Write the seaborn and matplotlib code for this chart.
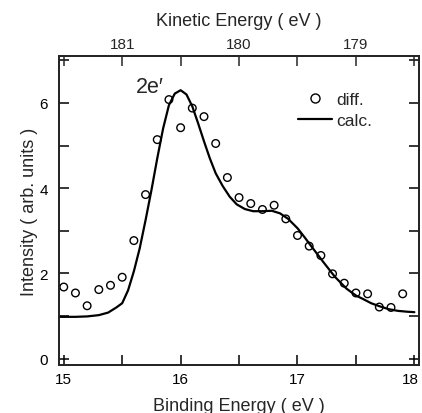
import matplotlib
matplotlib.use("Agg")
import matplotlib.pyplot as plt
import matplotlib.transforms as mtransforms
import seaborn as sns
import pandas as pd
from matplotlib.lines import Line2D

# ---- data ----
diff_be = [15.0, 15.1, 15.2, 15.3, 15.4, 15.5, 15.6, 15.7, 15.8, 15.9,
           16.0, 16.1, 16.2, 16.3, 16.4, 16.5, 16.6, 16.7, 16.8, 16.9,
           17.0, 17.1, 17.2, 17.3, 17.4, 17.5, 17.6, 17.7, 17.8, 17.9]
diff_int = [1.68, 1.54, 1.24, 1.62, 1.72, 1.91, 2.77, 3.85, 5.14, 6.08,
            5.42, 5.88, 5.68, 5.05, 4.25, 3.78, 3.64, 3.50, 3.60, 3.28,
            2.89, 2.64, 2.42, 1.99, 1.77, 1.54, 1.52, 1.21, 1.20, 1.52]

calc_be = [14.96, 15.10, 15.20, 15.30, 15.38, 15.45, 15.50, 15.55, 15.60, 15.65,
           15.70, 15.75, 15.80, 15.85, 15.90, 15.95, 16.00, 16.05, 16.10, 16.15,
           16.20, 16.25, 16.30, 16.36, 16.42, 16.48, 16.55, 16.62, 16.70, 16.78,
           16.85, 16.92, 17.00, 17.06, 17.12, 17.22, 17.32, 17.42, 17.50, 17.56,
           17.63, 17.70, 17.78, 17.86, 17.94, 18.00]
calc_int = [0.98, 0.98, 0.99, 1.02, 1.08, 1.20, 1.30, 1.60, 2.05, 2.59,
            3.25, 3.95, 4.70, 5.40, 5.95, 6.22, 6.30, 6.20, 5.92, 5.52,
            5.10, 4.70, 4.35, 4.05, 3.80, 3.62, 3.51, 3.46, 3.46, 3.47,
            3.41, 3.28, 3.06, 2.85, 2.63, 2.27, 1.92, 1.64, 1.48, 1.40,
            1.30, 1.23, 1.16, 1.12, 1.10, 1.09]

bottom_ticks = [15, 15.5, 16, 16.5, 17, 17.5, 18]
bottom_labels = ["15", "", "16", "", "17", "", "18"]
y_ticks = [0, 1, 2, 3, 4, 5, 6, 7]
y_labels = ["0", "", "2", "", "4", "", "6", ""]
ke_ticks = [181.5, 181, 180.5, 180, 179.5, 179, 178.5]
ke_labels = ["", "181", "", "180", "", "179", ""]
ke_offset = 196.5  # KE = 196.5 - BE

df_diff = pd.DataFrame({"be": diff_be, "I": diff_int})
df_calc = pd.DataFrame({"be": calc_be, "I": calc_int})

sns.set_style("ticks")
plt.rcParams["font.family"] = ["Liberation Sans", "DejaVu Sans"]

fig = plt.figure(figsize=(4.22, 4.14), dpi=100)
ax = fig.add_axes([0.140, 0.116, 0.853, 0.746])

sns.lineplot(data=df_calc, x="be", y="I", ax=ax, color="black", lw=1.6,
             sort=False, legend=False)
sns.scatterplot(data=df_diff, x="be", y="I", ax=ax, marker="o", s=30,
                facecolor="none", edgecolor="black", linewidth=1.0, legend=False)

ax.set_xlim(14.96, 18.04)
ax.set_ylim(-0.15, 7.1)
ax.set_xticks(bottom_ticks)
ax.set_xticklabels(bottom_labels)
ax.set_yticks(y_ticks)
ax.set_yticklabels(y_labels)
ax.tick_params(direction="in", length=7, width=1.1, labelsize=11,
               right=True, top=False, colors="black", pad=5)
ax.tick_params(axis="y", pad=8)
ax.set_xlabel("Binding Energy ( eV )", fontsize=13, labelpad=8)
ax.set_ylabel("Intensity ( arb. units )", fontsize=13, labelpad=1)
for s in ax.spines.values():
    s.set_linewidth(1.2)
    s.set_color("black")

# nudge the last bottom label so it stays inside the figure
last = ax.get_xticklabels()[-1]
last.set_transform(last.get_transform() +
                   mtransforms.ScaledTranslation(-4 / 100, 0, fig.dpi_scale_trans))

ax2 = ax.twiny()
ax2.set_xlim(ax.get_xlim())
ax2.set_xticks([ke_offset - k for k in ke_ticks])
ax2.set_xticklabels(ke_labels)
ax2.tick_params(direction="in", length=7, width=1.1, labelsize=11, pad=4)
ax2.set_xlabel("Kinetic Energy ( eV )", fontsize=13, labelpad=8)
for s in ax2.spines.values():
    s.set_linewidth(1.2)

ax.text(15.74, 6.38, "2e\u2032", fontsize=15.5, ha="center", va="center")

handles = [Line2D([], [], marker="o", ls="none", mfc="none", mec="black",
                  ms=6.5, mew=1.0),
           Line2D([], [], color="black", lw=1.6)]
ax.legend(handles, ["diff.", "calc."], loc="upper right",
          bbox_to_anchor=(0.905, 0.925), frameon=False, fontsize=12.5,
          handlelength=2.0, handletextpad=0.25, labelspacing=0.35,
          borderpad=0.2)

fig.savefig("out.png", dpi=100)
